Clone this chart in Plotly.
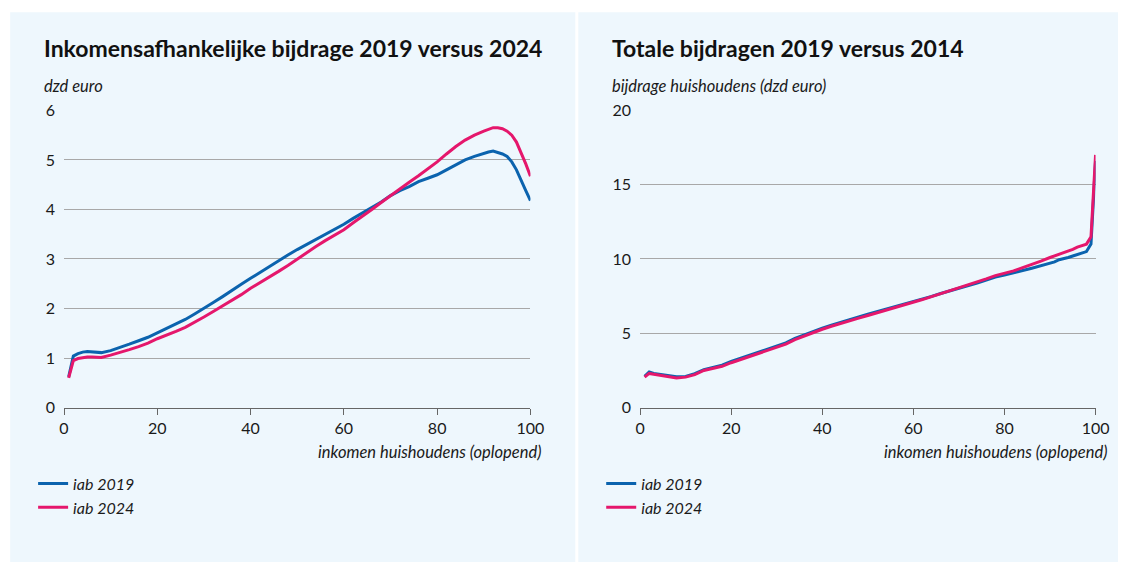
import plotly.graph_objects as go

# percentiles of household income (ascending)
pct = [1, 2, 3, 4, 5, 6, 7, 8, 10, 12, 14, 16, 18, 20, 22, 24, 26, 28, 30, 32,
       34, 36, 38, 40, 42, 44, 46, 48, 50, 52, 54, 56, 58, 60, 62, 64, 66, 68,
       70, 72, 74, 76, 78, 80, 82, 84, 86, 88, 90, 91, 92, 93, 94, 95, 96, 97,
       98, 99, 100]

# left chart: inkomensafhankelijke bijdrage (dzd euro)
iab_2019_left = [0.62, 1.04, 1.09, 1.12, 1.13, 1.12, 1.11, 1.11, 1.15, 1.21, 1.28, 1.35,
                 1.42, 1.51, 1.60, 1.69, 1.78, 1.89, 2.00, 2.12, 2.24, 2.37, 2.49, 2.61,
                 2.73, 2.85, 2.96, 3.08, 3.19, 3.29, 3.40, 3.50, 3.60, 3.70, 3.82, 3.93,
                 4.05, 4.15, 4.28, 4.38, 4.46, 4.56, 4.63, 4.70, 4.80, 4.90, 5.00, 5.07,
                 5.14, 5.16, 5.18, 5.15, 5.12, 5.07, 4.96, 4.80, 4.58, 4.38, 4.18]
iab_2024_left = [0.60, 0.95, 0.99, 1.01, 1.02, 1.02, 1.01, 1.01, 1.06, 1.11, 1.17, 1.23,
                 1.30, 1.39, 1.46, 1.54, 1.62, 1.72, 1.83, 1.94, 2.05, 2.16, 2.28, 2.41,
                 2.52, 2.64, 2.75, 2.87, 3.00, 3.12, 3.25, 3.37, 3.48, 3.59, 3.73, 3.86,
                 4.00, 4.14, 4.28, 4.42, 4.55, 4.68, 4.82, 4.96, 5.12, 5.27, 5.40, 5.50,
                 5.58, 5.62, 5.65, 5.65, 5.63, 5.58, 5.50, 5.36, 5.15, 4.92, 4.67]

# right chart: totale bijdragen huishoudens (dzd euro)
iab_2019_right = [2.10, 2.40, 2.30, 2.25, 2.25, 2.20, 2.10, 2.07, 2.10, 2.28, 2.55, 2.72,
                  2.85, 3.10, 3.30, 3.50, 3.70, 3.90, 4.10, 4.35, 4.65, 4.90, 5.15, 5.35,
                  5.55, 5.75, 5.92, 6.10, 6.28, 6.45, 6.60, 6.78, 6.95, 7.10, 7.30, 7.48,
                  7.68, 7.85, 8.00, 8.20, 8.38, 8.58, 8.78, 8.92, 9.05, 9.22, 9.38, 9.55,
                  9.72, 9.80, 9.95, 10.00, 10.10, 10.20, 10.30, 10.45, 10.50, 11.00, 16.60]
iab_2024_right = [2.05, 2.30, 2.25, 2.20, 2.20, 2.15, 2.05, 2.00, 2.05, 2.22, 2.50, 2.65,
                  2.78, 3.02, 3.22, 3.42, 3.62, 3.82, 4.02, 4.27, 4.57, 4.82, 5.07, 5.27,
                  5.47, 5.67, 5.84, 6.02, 6.20, 6.38, 6.53, 6.72, 6.90, 7.05, 7.27, 7.47,
                  7.67, 7.85, 8.02, 8.24, 8.44, 8.66, 8.88, 9.03, 9.20, 9.42, 9.62, 9.85,
                  10.10, 10.20, 10.35, 10.45, 10.55, 10.65, 10.80, 10.90, 11.00, 11.50, 17.00]

W, H = 1132, 571
BLUE = '#0b63ae'
PINK = '#e5176c'
PANEL = '#eef7fd'
FONT = 'Lato'

# the captured page comes out slightly shrunk and offset, so layout
# positions are given in target pixels and mapped back to paper here
OX, SX = 2.8, 0.9865
OY, SY = 9.7, 0.966


def fx(p):
    return min(1.0, max(0.0, (p - OX) / SX / W))


def fy(p):
    return min(1.0, max(0.0, 1 - (p - OY) / SY / H))


fig = go.Figure()

fig.add_trace(go.Scatter(x=pct, y=iab_2019_left, name='iab 2019', mode='lines',
                         line=dict(color=BLUE, width=3), xaxis='x', yaxis='y', legend='legend'))
fig.add_trace(go.Scatter(x=pct, y=iab_2024_left, name='iab 2024', mode='lines',
                         line=dict(color=PINK, width=3), xaxis='x', yaxis='y', legend='legend'))
fig.add_trace(go.Scatter(x=pct, y=iab_2019_right, name='iab 2019', mode='lines',
                         line=dict(color=BLUE, width=3), xaxis='x2', yaxis='y2', legend='legend2'))
fig.add_trace(go.Scatter(x=pct, y=iab_2024_right, name='iab 2024', mode='lines',
                         line=dict(color=PINK, width=3), xaxis='x2', yaxis='y2', legend='legend2'))

tick_font = dict(family=FONT, size=16, color='#1a1a1a')
xaxis_common = dict(range=[0, 100], tickvals=[0, 20, 40, 60, 80, 100], ticks='outside',
                    ticklen=6, tickcolor='#666', showline=True, linecolor='#666', linewidth=1,
                    showgrid=False, zeroline=False, tickfont=tick_font, fixedrange=True)
yaxis_common = dict(showgrid=True, gridcolor='#a8a8a8', gridwidth=1, zeroline=False,
                    showline=False, ticks='', tickfont=tick_font, ticklabelstandoff=8)

# panel backgrounds
fig.add_shape(type='rect', xref='paper', yref='paper', x0=fx(8), x1=fx(575),
              y0=0, y1=fy(12), fillcolor=PANEL, line_width=0, layer='below')
fig.add_shape(type='rect', xref='paper', yref='paper', x0=fx(578), x1=1,
              y0=0, y1=fy(12), fillcolor=PANEL, line_width=0, layer='below')

ann = []
title_font = dict(family=FONT, size=23, color='#111', weight='bold')
ital = dict(family=FONT, size=16.5, color='#1a1a1a', style='italic')
ann.append(dict(text='Inkomensafhankelijke bijdrage 2019 versus 2024', x=fx(40), y=fy(48),
                xanchor='left', yanchor='middle', font=title_font))
ann.append(dict(text='Totale bijdragen 2019 versus 2014', x=fx(610), y=fy(48),
                xanchor='left', yanchor='middle', font=title_font))
ann.append(dict(text='dzd euro', x=fx(40), y=fy(86), xanchor='left', yanchor='middle', font=ital))
ann.append(dict(text='bijdrage huishoudens (dzd euro)', x=fx(610), y=fy(86),
                xanchor='left', yanchor='middle', font=ital))
ann.append(dict(text='inkomen huishoudens (oplopend)', x=fx(543), y=fy(451),
                xanchor='right', yanchor='middle', font=ital))
ann.append(dict(text='inkomen huishoudens (oplopend)', x=fx(1110), y=fy(451),
                xanchor='right', yanchor='middle', font=ital))
for a in ann:
    a.update(xref='paper', yref='paper', showarrow=False)

legend_font = dict(family=FONT, size=16, color='#1a1a1a', style='italic')

fig.update_layout(
    width=W, height=H,
    margin=dict(l=0, r=0, t=0, b=0),
    paper_bgcolor='white', plot_bgcolor='rgba(0,0,0,0)',
    font=dict(family=FONT),
    xaxis=dict(domain=[fx(62), fx(530)], anchor='y', **xaxis_common),
    yaxis=dict(domain=[fy(407), fy(110)], anchor='x', range=[0, 6],
               tickvals=[0, 1, 2, 3, 4, 5, 6], **yaxis_common),
    xaxis2=dict(domain=[fx(640), fx(1097)], anchor='y2', **xaxis_common),
    yaxis2=dict(domain=[fy(407), fy(110)], anchor='x2', range=[0, 20],
                tickvals=[0, 5, 10, 15, 20], **yaxis_common),
    legend=dict(x=fx(31), y=fy(466), xanchor='left', yanchor='top',
                bgcolor='rgba(0,0,0,0)', font=legend_font, itemwidth=30, tracegroupgap=0),
    legend2=dict(x=fx(601), y=fy(466), xanchor='left', yanchor='top',
                 bgcolor='rgba(0,0,0,0)', font=legend_font, itemwidth=30, tracegroupgap=0),
    annotations=ann,
    showlegend=True,
)

page_css = ("document.documentElement.style.background="
            "'linear-gradient(to bottom, #ffffff 10px, " + PANEL + " 10px)';"
            "document.body.style.margin='0';document.body.style.overflow='hidden';"
            "document.body.style.background='transparent';")
fig.write_html('out.html', config={'displayModeBar': False}, post_script=page_css)
